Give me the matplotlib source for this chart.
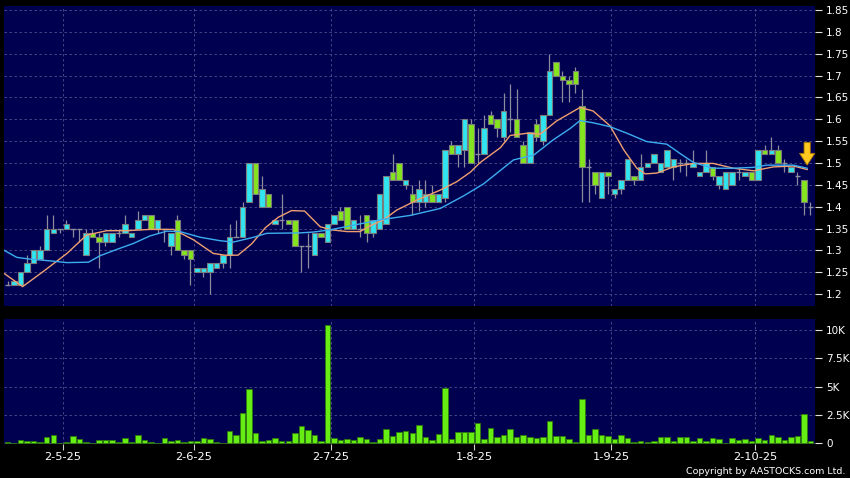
import numpy as np
import matplotlib.pyplot as plt

opens = [1.22, 1.22, 1.22, 1.25, 1.27, 1.28, 1.30, 1.34, 1.35, 1.35,
         1.35, 1.35, 1.29, 1.34, 1.33, 1.32, 1.32, 1.34, 1.34, 1.33,
         1.35, 1.37, 1.38, 1.35, 1.35, 1.31, 1.37, 1.30, 1.30, 1.25,
         1.25, 1.25, 1.26, 1.27, 1.29, 1.33, 1.33, 1.41, 1.50, 1.40,
         1.43, 1.36, 1.37, 1.37, 1.37, 1.31, 1.31, 1.29, 1.34, 1.32,
         1.36, 1.39, 1.40, 1.35, 1.35, 1.38, 1.34, 1.35, 1.36, 1.48,
         1.50, 1.45, 1.43, 1.41, 1.41, 1.43, 1.41, 1.42, 1.54, 1.52,
         1.53, 1.59, 1.52, 1.52, 1.61, 1.60, 1.56, 1.60, 1.60, 1.54,
         1.50, 1.59, 1.55, 1.61, 1.73, 1.70, 1.69, 1.71, 1.63, 1.49,
         1.48, 1.42, 1.48, 1.43, 1.44, 1.46, 1.47, 1.46, 1.49, 1.50,
         1.48, 1.49, 1.49, 1.50, 1.50, 1.49, 1.47, 1.48, 1.49, 1.45,
         1.44, 1.45, 1.48, 1.47, 1.48, 1.46, 1.53, 1.52, 1.53, 1.50,
         1.48, 1.47, 1.46, 1.40]
highs = [1.23, 1.23, 1.25, 1.29, 1.30, 1.31, 1.38, 1.38, 1.35, 1.37,
         1.35, 1.35, 1.35, 1.35, 1.34, 1.34, 1.34, 1.35, 1.38, 1.34,
         1.39, 1.38, 1.38, 1.37, 1.35, 1.34, 1.38, 1.30, 1.30, 1.26,
         1.26, 1.27, 1.27, 1.29, 1.36, 1.37, 1.41, 1.50, 1.50, 1.47,
         1.43, 1.37, 1.43, 1.37, 1.37, 1.31, 1.34, 1.34, 1.34, 1.36,
         1.38, 1.40, 1.40, 1.37, 1.38, 1.38, 1.37, 1.43, 1.47, 1.52,
         1.50, 1.46, 1.45, 1.46, 1.46, 1.45, 1.43, 1.53, 1.55, 1.54,
         1.60, 1.60, 1.58, 1.61, 1.62, 1.60, 1.66, 1.68, 1.67, 1.55,
         1.57, 1.60, 1.61, 1.75, 1.73, 1.71, 1.70, 1.72, 1.67, 1.51,
         1.48, 1.48, 1.48, 1.44, 1.46, 1.51, 1.47, 1.52, 1.50, 1.52,
         1.50, 1.53, 1.51, 1.51, 1.51, 1.53, 1.48, 1.53, 1.49, 1.47,
         1.48, 1.48, 1.49, 1.48, 1.48, 1.53, 1.54, 1.56, 1.54, 1.51,
         1.49, 1.48, 1.46, 1.41]
lows = [1.22, 1.22, 1.22, 1.25, 1.27, 1.28, 1.30, 1.34, 1.34, 1.35,
        1.33, 1.32, 1.29, 1.33, 1.26, 1.31, 1.32, 1.33, 1.34, 1.33,
        1.35, 1.37, 1.35, 1.34, 1.32, 1.29, 1.30, 1.28, 1.22, 1.25,
        1.24, 1.20, 1.26, 1.26, 1.26, 1.33, 1.33, 1.41, 1.43, 1.40,
        1.40, 1.36, 1.35, 1.36, 1.31, 1.25, 1.26, 1.29, 1.33, 1.32,
        1.36, 1.37, 1.35, 1.35, 1.33, 1.32, 1.33, 1.35, 1.36, 1.46,
        1.46, 1.44, 1.38, 1.39, 1.40, 1.41, 1.41, 1.41, 1.52, 1.49,
        1.49, 1.50, 1.50, 1.52, 1.59, 1.56, 1.55, 1.57, 1.56, 1.50,
        1.50, 1.55, 1.54, 1.61, 1.70, 1.64, 1.64, 1.66, 1.41, 1.41,
        1.43, 1.42, 1.43, 1.42, 1.43, 1.46, 1.45, 1.46, 1.49, 1.50,
        1.48, 1.49, 1.46, 1.48, 1.47, 1.49, 1.47, 1.48, 1.46, 1.44,
        1.44, 1.45, 1.46, 1.47, 1.46, 1.46, 1.52, 1.52, 1.50, 1.48,
        1.48, 1.45, 1.38, 1.38]
closes = [1.22, 1.23, 1.25, 1.27, 1.30, 1.30, 1.35, 1.35, 1.35, 1.36,
          1.35, 1.35, 1.34, 1.33, 1.32, 1.34, 1.34, 1.34, 1.36, 1.34,
          1.37, 1.38, 1.35, 1.37, 1.35, 1.34, 1.30, 1.29, 1.28, 1.26,
          1.26, 1.27, 1.27, 1.29, 1.33, 1.33, 1.40, 1.50, 1.43, 1.44,
          1.40, 1.37, 1.37, 1.36, 1.31, 1.31, 1.31, 1.34, 1.33, 1.36,
          1.38, 1.37, 1.35, 1.37, 1.35, 1.34, 1.37, 1.43, 1.47, 1.46,
          1.46, 1.46, 1.41, 1.44, 1.43, 1.41, 1.43, 1.53, 1.52, 1.54,
          1.60, 1.50, 1.52, 1.58, 1.59, 1.58, 1.62, 1.60, 1.56, 1.50,
          1.57, 1.56, 1.61, 1.71, 1.70, 1.69, 1.68, 1.68, 1.49, 1.49,
          1.45, 1.48, 1.47, 1.44, 1.46, 1.51, 1.46, 1.49, 1.50, 1.52,
          1.50, 1.53, 1.51, 1.50, 1.50, 1.50, 1.48, 1.50, 1.47, 1.47,
          1.48, 1.48, 1.48, 1.48, 1.46, 1.53, 1.52, 1.53, 1.50, 1.50,
          1.49, 1.47, 1.41, 1.40]
# volume in thousands of shares
volumes = [0.10, 0.05, 0.29, 0.20, 0.20, 0.08, 0.59, 0.70, 0.03, 0.10,
           0.64, 0.35, 0.12, 0.05, 0.29, 0.26, 0.29, 0.15, 0.47, 0.12,
           0.76, 0.29, 0.15, 0.05, 0.44, 0.20, 0.26, 0.08, 0.20, 0.23,
           0.50, 0.38, 0.08, 0.03, 1.09, 0.76, 2.65, 4.76, 0.94, 0.23,
           0.29, 0.50, 0.20, 0.20, 0.94, 1.56, 1.18, 0.73, 0.20, 10.44,
           0.50, 0.29, 0.41, 0.26, 0.59, 0.35, 0.12, 0.35, 1.24, 0.65,
           1.00, 1.12, 0.94, 1.65, 0.53, 0.29, 0.82, 4.85, 0.35, 0.97,
           1.00, 1.03, 1.76, 0.35, 1.32, 0.53, 0.76, 1.24, 0.59, 0.70,
           0.53, 0.44, 0.53, 1.94, 0.65, 0.65, 0.38, 0.15, 3.94, 0.76,
           1.29, 0.76, 0.65, 0.38, 0.76, 0.44, 0.09, 0.23, 0.09, 0.23,
           0.53, 0.53, 0.20, 0.53, 0.59, 0.23, 0.44, 0.20, 0.44, 0.35,
           0.03, 0.44, 0.29, 0.35, 0.23, 0.44, 0.29, 0.76, 0.59, 0.29,
           0.53, 0.65, 2.59, 0.20]

# moving averages (position, value)
ma_short_x = [-0.5, 2.3, 5.4, 9.1, 12.1, 15.2, 18.3, 21.8, 25.4, 28.5,
              31.5, 33.3, 35.3, 37.4, 39.5, 41.5, 43.5, 45.5, 47.9, 49.6,
              52.0, 54.0, 55.5, 57.6, 59.6, 62.7, 66.3, 68.8, 70.9, 72.4,
              75.5, 77.0, 79.6, 81.6, 84.1, 87.7, 89.7, 92.3, 94.4, 96.4,
              97.7, 99.5, 102.0, 105.1, 108.1, 111.2, 114.3, 117.3, 120.4, 122.5]
ma_short_y = [1.247, 1.217, 1.251, 1.293, 1.335, 1.345, 1.345, 1.348, 1.348, 1.324,
              1.293, 1.289, 1.289, 1.315, 1.352, 1.376, 1.391, 1.390, 1.354, 1.347,
              1.343, 1.343, 1.356, 1.370, 1.392, 1.415, 1.438, 1.457, 1.479, 1.501,
              1.535, 1.563, 1.568, 1.566, 1.596, 1.627, 1.619, 1.585, 1.530, 1.488,
              1.475, 1.477, 1.491, 1.499, 1.499, 1.488, 1.482, 1.491, 1.493, 1.485]
ma_long_x = [-0.5, 1.4, 3.4, 6.5, 9.1, 12.4, 14.2, 16.7, 19.3, 21.8,
             24.4, 26.4, 29.5, 32.6, 34.6, 37.7, 39.7, 44.8, 46.9, 49.4,
             53.8, 57.1, 61.7, 66.3, 69.9, 72.9, 75.5, 77.5, 80.6, 83.6,
             86.2, 87.7, 89.7, 92.3, 94.9, 97.9, 101.0, 103.0, 105.1, 108.1,
             111.2, 114.3, 116.3, 120.4, 122.5]
ma_long_y = [1.300, 1.284, 1.280, 1.276, 1.272, 1.273, 1.288, 1.302, 1.316, 1.333,
             1.344, 1.343, 1.330, 1.322, 1.319, 1.330, 1.339, 1.340, 1.342, 1.347,
             1.360, 1.370, 1.380, 1.396, 1.425, 1.452, 1.483, 1.507, 1.518, 1.553,
             1.579, 1.597, 1.592, 1.583, 1.568, 1.549, 1.543, 1.522, 1.501, 1.488,
             1.488, 1.490, 1.495, 1.495, 1.488]

date_labels = ['2-5-25', '2-6-25', '2-7-25', '1-8-25', '1-9-25', '2-10-25']
date_idx = [9, 29, 50, 72, 93, 115]

price_ticks = [1.2, 1.25, 1.3, 1.35, 1.4, 1.45, 1.5, 1.55, 1.6, 1.65, 1.7, 1.75, 1.8, 1.85]
price_labels = ['1.2', '1.25', '1.3', '1.35', '1.4', '1.45', '1.5', '1.55', '1.6', '1.65',
                '1.7', '1.75', '1.8', '1.85']
vol_ticks = [0, 2.5, 5, 7.5, 10]
vol_labels = ['0', '2.5K', '5K', '7.5K', '10K']

navy = '#000050'
gridc = '#50508c'
up_col = '#30E4F0'
down_col = '#84E41E'
wick_col = '#8c8c9c'

plt.rcParams['font.family'] = ['DejaVu Sans']

o = np.array(opens)
c = np.array(closes)
x = np.arange(len(o))
n = len(o)

fig = plt.figure(figsize=(8.5, 4.78), dpi=100, facecolor='black')
ax = fig.add_axes([4/850, 1-306/478, 811/850, 300/478], facecolor=navy)
axv = fig.add_axes([4/850, 1-444/478, 811/850, 125/478], facecolor=navy)

grid_x = [d - 0.5 for d in date_idx]
for a in (ax, axv):
    a.set_xlim(-0.55, 123.7)
    for s in a.spines.values():
        s.set_visible(False)
    a.set_xticks(grid_x)
    a.grid(True, color=gridc, linestyle=(0, (3, 3)), linewidth=0.6)
    a.set_axisbelow(True)
    a.yaxis.tick_right()
    a.tick_params(axis='y', colors='#e0e0e0', labelcolor='white', length=5, width=0.8,
                  pad=3, labelsize=7.5)

# price panel
ax.set_ylim(1.1727, 1.8592)
ax.set_yticks(price_ticks)
ax.set_yticklabels(price_labels)
ax.tick_params(axis='x', length=0, labelbottom=False)

ax.vlines(x, lows, highs, color=wick_col, linewidth=0.9, zorder=2)
body_h = np.abs(c - o)
body_b = np.minimum(o, c)
cols = [up_col if cc > oo else down_col for oo, cc in zip(o, c)]
solid = body_h > 0
ax.bar(x[solid], body_h[solid], bottom=body_b[solid], width=0.84,
       color=[cols[i] for i in x[solid]], edgecolor='#7c7c7c', linewidth=0.8, zorder=3)
ax.hlines(o[~solid], x[~solid] - 0.42, x[~solid] + 0.42, color=wick_col, linewidth=1.0, zorder=3)

ax.plot(ma_short_x, ma_short_y, color='#F0A070', linewidth=1.0, zorder=4)
ax.plot(ma_long_x, ma_long_y, color='#3CAEF0', linewidth=1.0, zorder=4)

# yellow marker arrow over the latest bar
ax.annotate('', xy=(n - 1.5, ma_short_y[-1] + 0.010), xytext=(n - 1.5, ma_short_y[-1] + 0.062),
            arrowprops=dict(arrowstyle='simple,head_length=0.85,head_width=1.1,tail_width=0.45',
                            mutation_scale=10, shrinkA=0, shrinkB=0,
                            fc='#FFC81E', ec='#A87400', lw=0.6), zorder=5)

# volume panel
axv.set_ylim(-0.06, 10.97)
axv.set_yticks(vol_ticks)
axv.set_yticklabels(vol_labels)
axv.bar(x, volumes, width=0.84, color='#66EE14', edgecolor='#2f7a0c', linewidth=0.6, zorder=3)
axv.set_xticklabels(date_labels)
axv.tick_params(axis='x', colors='#d0d0d0', labelcolor='white', length=4, width=0.8,
                pad=2, labelsize=8.2)

fig.text(845/850, 1-471/478, 'Copyright by AASTOCKS.com Ltd.', color='white',
         fontsize=6.8, ha='right', va='center')

fig.savefig('out.png', dpi=100, facecolor='black')
